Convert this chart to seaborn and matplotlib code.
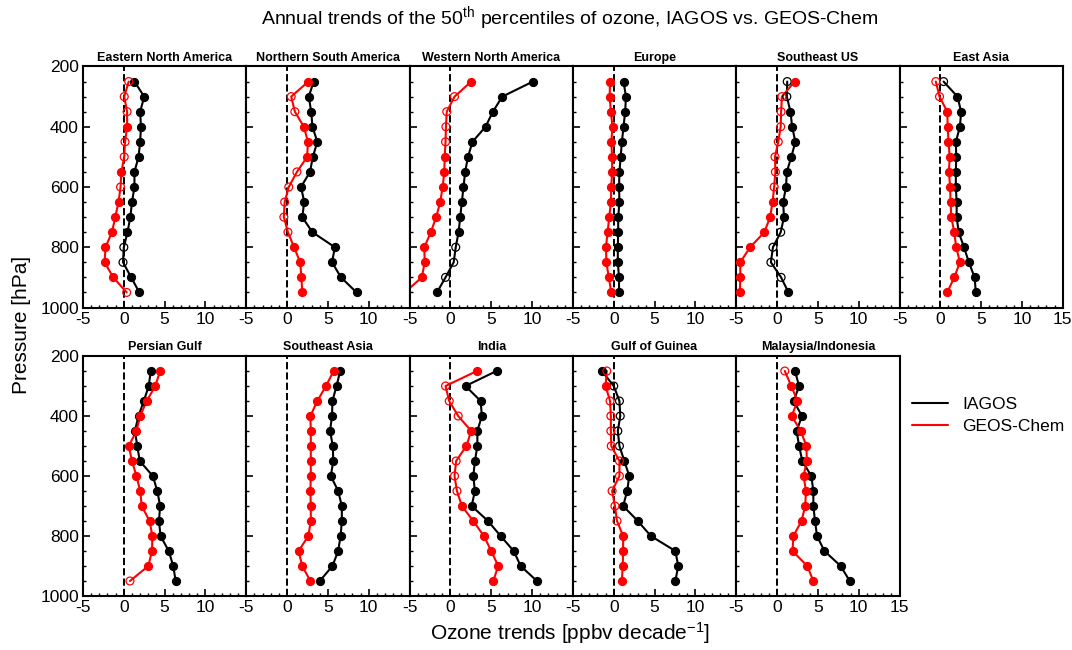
import numpy as np
import pandas as pd
import matplotlib
matplotlib.use("Agg")
import matplotlib.pyplot as plt
import seaborn as sns
from matplotlib.ticker import MultipleLocator
from matplotlib.lines import Line2D

pressure = [250, 300, 350, 400, 450, 500, 550, 600, 650, 700, 750, 800, 850, 900, 950]

# trends in ppbv/decade, sig = 1 filled marker, 0 open marker
ena_iagos = [1.3, 2.5, 2.0, 2.1, 2.0, 1.8, 1.3, 1.3, 1.0, 0.8, 0.45, 0.0, -0.1, 0.9, 1.9]
ena_iagos_sig = [1, 1, 1, 1, 1, 1, 1, 1, 1, 1, 1, 0, 0, 1, 1]
ena_gc = [0.6, 0.05, 0.4, 0.4, 0.15, 0.05, -0.3, -0.4, -0.65, -1.05, -1.45, -2.25, -2.35, -1.3, 0.35]
ena_gc_sig = [0, 0, 0, 1, 0, 0, 1, 0, 1, 1, 1, 1, 1, 1, 0]

nsa_iagos = [3.25, 2.65, 2.95, 3.1, 3.7, 3.15, 2.8, 1.7, 2.1, 1.85, 3.1, 5.85, 5.5, 6.6, 8.5]
nsa_iagos_sig = [1] * 15
nsa_gc = [2.6, 0.5, 0.95, 2.05, 2.55, 2.45, 1.2, 0.2, -0.3, -0.4, 0.1, 0.85, 1.6, 1.75, 1.85]
nsa_gc_sig = [1, 0, 0, 1, 1, 1, 0, 0, 0, 0, 0, 1, 1, 1, 1]

wna_iagos = [10.1, 6.35, 5.2, 4.3, 2.7, 2.15, 1.8, 1.6, 1.4, 1.2, 1.0, 0.65, 0.4, -0.6, -1.65]
wna_iagos_sig = [1, 1, 1, 1, 1, 1, 1, 1, 1, 1, 1, 0, 0, 0, 1]
wna_gc = [2.55, 0.5, -0.45, -0.55, -0.6, -0.7, -0.75, -0.95, -1.25, -1.75, -2.4, -3.2, -3.15, -3.5, -5.6]
wna_gc_sig = [1, 0, 0, 0, 0, 1, 1, 1, 1, 1, 1, 1, 1, 1, 1]

eu_iagos = [1.2, 1.5, 1.4, 1.2, 1.0, 0.85, 0.7, 0.65, 0.7, 0.55, 0.55, 0.5, 0.5, 0.65, 0.65]
eu_iagos_sig = [1] * 15
eu_gc = [-0.45, -0.5, -0.35, -0.15, -0.3, -0.2, -0.2, -0.3, -0.35, -0.55, -0.75, -0.95, -0.9, -0.6, -0.3]
eu_gc_sig = [1] * 15

seus_iagos = [1.25, 1.2, 1.65, 1.85, 2.25, 1.75, 1.2, 1.1, 0.75, 0.85, 0.45, -0.5, -0.75, 0.5, 1.4]
seus_iagos_sig = [0, 0, 1, 1, 1, 1, 1, 1, 1, 1, 0, 0, 0, 0, 1]
seus_gc = [2.15, 0.6, 0.5, 0.45, 0.15, -0.25, -0.2, -0.35, -0.55, -0.85, -1.55, -3.3, -4.5, -4.5, -4.55]
seus_gc_sig = [1, 0, 0, 0, 0, 0, 0, 0, 1, 1, 1, 1, 1, 1, 1]

ea_iagos = [0.4, 2.1, 2.55, 2.4, 1.9, 1.95, 1.9, 1.9, 2.0, 2.0, 2.25, 2.9, 3.5, 4.2, 4.35]
ea_iagos_sig = [0, 1, 1, 1, 1, 1, 1, 1, 1, 1, 1, 1, 1, 1, 1]
ea_gc = [-0.55, -0.1, 0.85, 0.9, 1.0, 1.15, 1.05, 1.2, 1.25, 1.35, 1.7, 1.95, 2.4, 1.7, 0.85]
ea_gc_sig = [0, 0, 1, 1, 1, 1, 1, 1, 1, 1, 1, 1, 1, 1, 1]

pg_iagos = [3.3, 3.05, 2.45, 1.8, 1.35, 1.65, 1.95, 3.55, 4.1, 4.45, 4.3, 4.5, 5.5, 6.05, 6.35]
pg_iagos_sig = [1] * 15
pg_gc = [4.45, 3.85, 2.8, 2.0, 1.55, 0.6, 1.0, 1.55, 2.0, 2.2, 3.15, 3.5, 3.45, 3.0, 0.75]
pg_gc_sig = [1, 1, 1, 1, 1, 1, 1, 1, 1, 1, 1, 1, 1, 1, 0]

sea_iagos = [6.5, 6.05, 5.55, 5.5, 5.25, 5.6, 5.65, 5.35, 6.25, 6.7, 6.7, 6.55, 6.25, 5.55, 4.0]
sea_iagos_sig = [1] * 15
sea_gc = [5.7, 4.75, 3.7, 2.85, 2.9, 2.9, 2.9, 2.9, 2.85, 2.9, 2.9, 2.6, 1.4, 1.85, 2.85]
sea_gc_sig = [1] * 15

ind_iagos = [5.65, 1.85, 3.7, 3.85, 3.3, 3.3, 3.0, 2.8, 3.0, 2.6, 4.6, 6.15, 7.75, 8.6, 10.6]
ind_iagos_sig = [1] * 15
ind_gc = [3.25, -0.6, -0.15, 0.95, 2.55, 1.95, 0.7, 0.5, 0.8, 1.4, 2.8, 4.1, 5.0, 5.85, 5.25]
ind_gc_sig = [1, 0, 0, 0, 1, 1, 0, 0, 0, 1, 1, 1, 1, 1, 1]

gog_iagos = [-1.45, 0.0, 0.7, 0.8, 0.5, 0.7, 1.3, 1.9, 1.65, 1.15, 2.95, 4.55, 7.55, 7.9, 7.55]
gog_iagos_sig = [1, 0, 0, 0, 0, 0, 1, 1, 1, 1, 1, 1, 1, 1, 1]
gog_gc = [-0.85, -1.0, -0.45, -0.35, -0.35, -0.3, 0.7, 0.7, -0.2, 0.15, 0.4, 1.15, 1.15, 1.1, 1.0]
gog_gc_sig = [0, 1, 0, 0, 0, 0, 0, 0, 0, 0, 0, 1, 1, 1, 1]

mi_iagos = [2.2, 2.7, 2.05, 3.05, 2.4, 2.7, 3.1, 4.2, 4.45, 4.45, 4.65, 4.9, 5.8, 7.8, 8.9]
mi_iagos_sig = [1] * 15
mi_gc = [0.95, 1.75, 2.5, 1.8, 2.9, 3.6, 3.65, 3.25, 3.55, 3.45, 3.0, 2.0, 1.9, 3.7, 4.45]
mi_gc_sig = [0, 1, 1, 1, 1, 1, 1, 1, 1, 1, 1, 1, 1, 1, 1]

regions = [
    ("Eastern North America", ena_iagos, ena_iagos_sig, ena_gc, ena_gc_sig),
    ("Northern South America", nsa_iagos, nsa_iagos_sig, nsa_gc, nsa_gc_sig),
    ("Western North America", wna_iagos, wna_iagos_sig, wna_gc, wna_gc_sig),
    ("Europe", eu_iagos, eu_iagos_sig, eu_gc, eu_gc_sig),
    ("Southeast US", seus_iagos, seus_iagos_sig, seus_gc, seus_gc_sig),
    ("East Asia", ea_iagos, ea_iagos_sig, ea_gc, ea_gc_sig),
    ("Persian Gulf", pg_iagos, pg_iagos_sig, pg_gc, pg_gc_sig),
    ("Southeast Asia", sea_iagos, sea_iagos_sig, sea_gc, sea_gc_sig),
    ("India", ind_iagos, ind_iagos_sig, ind_gc, ind_gc_sig),
    ("Gulf of Guinea", gog_iagos, gog_iagos_sig, gog_gc, gog_gc_sig),
    ("Malaysia/Indonesia", mi_iagos, mi_iagos_sig, mi_gc, mi_gc_sig),
]

sns.set_style("ticks")
plt.rcParams['font.family'] = ['Liberation Sans', 'DejaVu Sans']
plt.rcParams['mathtext.default'] = 'regular'
for key in ['text.color', 'axes.labelcolor', 'xtick.color', 'ytick.color', 'axes.edgecolor']:
    plt.rcParams[key] = 'black'

fig = plt.figure(figsize=(10.72, 6.5), dpi=100)
W, H = 1072, 650
left = 83 / W
w = 163.3 / W
rows = [(1 - 307.5 / H, 241 / H), (1 - 596 / H, 240 / H)]

for i, (name, iag, iag_sig, gc, gc_sig) in enumerate(regions):
    r, c = divmod(i, 6)
    ax = fig.add_axes([left + c * w, rows[r][0], w, rows[r][1]])
    ax.axvline(0, color='k', ls='--', lw=1.4, zorder=1)
    for vals, sig, col in [(iag, iag_sig, 'black'), (gc, gc_sig, 'red')]:
        df = pd.DataFrame({'trend': vals, 'p': pressure, 'sig': sig})
        sns.lineplot(data=df, x='trend', y='p', orient='y', estimator=None,
                     color=col, lw=1.5, ax=ax, zorder=2)
        filled = df[df.sig == 1]
        hollow = df[df.sig == 0]
        if len(filled):
            sns.scatterplot(data=filled, x='trend', y='p', color=col, edgecolor=col,
                            s=34, linewidth=0.8, ax=ax, zorder=3)
        if len(hollow):
            sns.scatterplot(data=hollow, x='trend', y='p', color=col, facecolor='none',
                            edgecolor=col, s=32, linewidth=0.9, ax=ax, zorder=3)
    ax.set_xlim(-5, 15)
    ax.set_ylim(1000, 200)
    ax.set_xlabel('')
    ax.set_ylabel('')
    ax.set_title(name, fontsize=9, fontweight='bold', pad=4)
    ax.set_xticks([-5, 0, 5, 10, 15])
    last = (i == 5) or (i == len(regions) - 1)
    ax.set_xticklabels(['-5', '0', '5', '10', '15' if last else ''])
    ax.xaxis.set_minor_locator(MultipleLocator(1))
    ax.set_yticks([200, 400, 600, 800, 1000])
    ax.yaxis.set_minor_locator(MultipleLocator(50))
    if c != 0:
        ax.set_yticklabels([])
    ax.tick_params(which='both', direction='in', top=False, right=False, labelsize=12.5)
    ax.tick_params(which='major', length=5, width=1.2, pad=3)
    ax.tick_params(which='minor', length=2.5, width=1)
    for sp in ax.spines.values():
        sp.set_linewidth(1.5)
        sp.set_color('black')

fig.text(570 / W, 1 - 18 / H,
         'Annual trends of the 50$^{th}$ percentiles of ozone, IAGOS vs. GEOS-Chem',
         ha='center', va='center', fontsize=14)
fig.text(22 / W, 1 - 325 / H, 'Pressure [hPa]', rotation=90, ha='center', va='center', fontsize=15)
fig.text(570 / W, 1 - 633 / H, 'Ozone trends [ppbv decade$^{-1}$]', ha='center', va='center', fontsize=15)

handles = [Line2D([], [], color='black', lw=1.5), Line2D([], [], color='red', lw=1.5)]
fig.legend(handles, ['IAGOS', 'GEOS-Chem'], loc='upper left',
           bbox_to_anchor=(905 / W, 1 - 390 / H), frameon=False, fontsize=12.5,
           handlelength=2.1, handletextpad=0.8, labelspacing=0.4, borderaxespad=0)

fig.savefig('out.png', dpi=100)
